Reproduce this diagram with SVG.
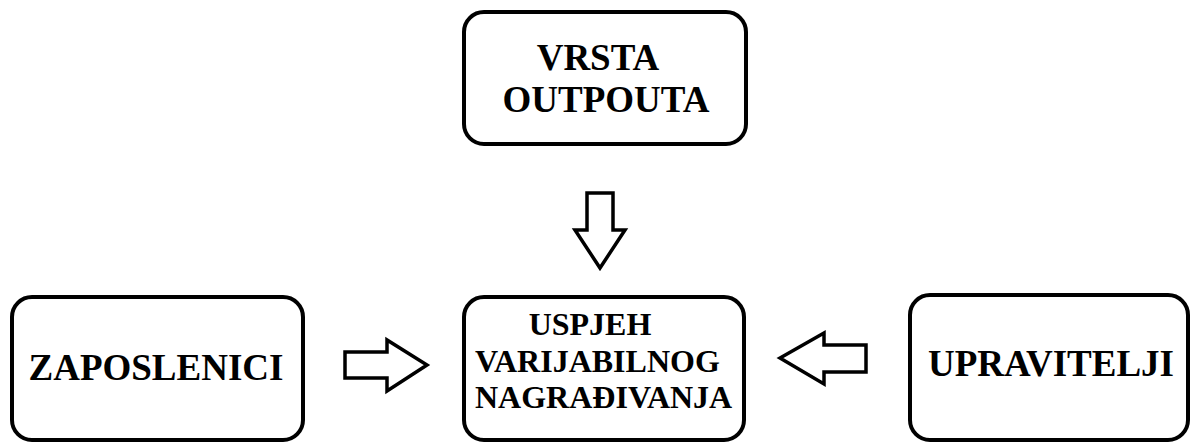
<svg xmlns="http://www.w3.org/2000/svg" width="1192" height="444" viewBox="0 0 1192 444">
<style>
.box{fill:#fff;stroke:#000;stroke-width:4}
.arr{fill:#fff;stroke:#000;stroke-width:3.5;stroke-linejoin:miter}
.t{font-family:'Liberation Serif','DejaVu Serif',serif;font-weight:bold;fill:#000}
</style>
<rect width="1192" height="444" fill="#fff"/>
<g id="vrsta">
<rect class="box" x="464" y="12" width="282" height="132" rx="20"/>
<text class="t" font-size="37" x="598" y="70" text-anchor="middle">VRSTA</text>
<text class="t" font-size="37" x="606" y="112" text-anchor="middle">OUTPOUTA</text>
</g>
<g id="uspjeh">
<rect class="box" x="464" y="297" width="280" height="143" rx="20"/>
<text class="t" font-size="32" x="590" y="335" text-anchor="middle">USPJEH</text>
<text class="t" font-size="32" x="475" y="372">VARIJABILNOG</text>
<text class="t" font-size="32" x="475" y="408">NAGRAĐIVANJA</text>
</g>
<g id="zaposlenici">
<rect class="box" x="12" y="297" width="291" height="143" rx="20"/>
<text class="t" font-size="37" x="156" y="380" text-anchor="middle">ZAPOSLENICI</text>
</g>
<g id="upravitelji">
<rect class="box" x="910" y="295" width="278" height="145" rx="20"/>
<text class="t" font-size="37" x="1051" y="376" text-anchor="middle">UPRAVITELJI</text>
</g>
<g id="connectors">
<polygon class="arr" points="587,193 613,193 613,230 625,230 600,268 575,230 587,230"/>
<polygon class="arr" points="345,352 387,352 387,340 427,365 387,391 387,378 345,378"/>
<polygon class="arr" points="866,345 824,345 824,333 780,358 824,384 824,372 866,372"/>
</g>
</svg>
